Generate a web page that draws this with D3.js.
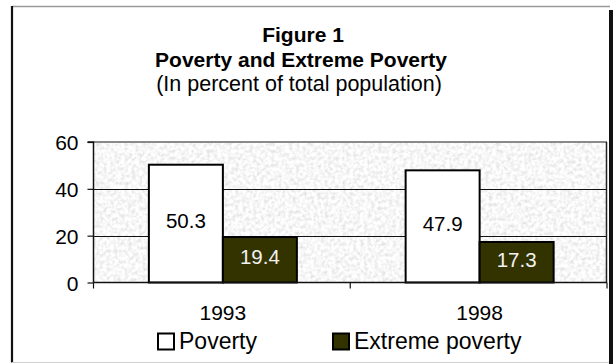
<!DOCTYPE html>
<html><head><meta charset="utf-8">
<script src="https://cdn.jsdelivr.net/npm/d3@7"></script>
<style>html,body{margin:0;padding:0;background:#fff;}svg{display:block;font-family:"Liberation Sans",Arial,sans-serif;}</style>
</head><body>
<svg id="c" width="613" height="364"></svg>
<script>
const categories = ["1993", "1998"];
const seriesNames = ["Poverty", "Extreme poverty"];
const poverty = [50.3, 47.9];
const extremePoverty = [19.4, 17.3];
const yTicks = [0, 20, 40, 60];
const titleLines = ["Figure 1", "Poverty and Extreme Poverty"];
const subtitle = "(In percent of total population)";

const colors = ["#ffffff", "#333300"];
const labelColors = ["#000000", "#f2f2f2"];
const seriesValues = [poverty, extremePoverty];

const svg = d3.select("#c");
const W = 613, H = 364;
const plot = {x0: 93.5, x1: 607, y0: 142, y1: 282.5};

// frame
svg.append("line").attr("x1", 12).attr("x2", 610).attr("y1", 6.5).attr("y2", 6.5).attr("stroke", "#9a9a9a").attr("stroke-width", 1.5);
svg.append("line").attr("x1", 12).attr("x2", 12).attr("y1", 6).attr("y2", 362.5).attr("stroke", "#111").attr("stroke-width", 2.2);
svg.append("line").attr("x1", 12).attr("x2", 609).attr("y1", 362.5).attr("y2", 362.5).attr("stroke", "#d0d0d0").attr("stroke-width", 1);
svg.append("rect").attr("x", 609).attr("y", 10).attr("width", 4).attr("height", H - 10).attr("fill", "#111");

// titles
const tcx = 301;
svg.append("text").attr("x", tcx + 2).attr("y", 42).attr("text-anchor", "middle").attr("font-weight", "bold").attr("font-size", 21).text(titleLines[0]);
svg.append("text").attr("x", tcx).attr("y", 67).attr("text-anchor", "middle").attr("font-weight", "bold").attr("font-size", 21).text(titleLines[1]);
svg.append("text").attr("x", tcx - 2).attr("y", 91).attr("text-anchor", "middle").attr("font-size", 21.5).text(subtitle);

// scales
const x = d3.scaleBand().domain(categories).range([plot.x0, plot.x1]).paddingInner(0).paddingOuter(0);
const x1 = d3.scaleBand().domain(seriesNames).range([0, 148]);
const y = d3.scaleLinear().domain([0, 60]).range([plot.y1, plot.y0]);

// textured background
const defs = svg.append("defs");
const f = defs.append("filter").attr("id", "noise").attr("x", 0).attr("y", 0).attr("width", 1).attr("height", 1);
f.append("feTurbulence").attr("type", "fractalNoise").attr("baseFrequency", 0.28).attr("numOctaves", 3).attr("seed", 4).attr("result", "t");
f.append("feColorMatrix").attr("in", "t").attr("type", "matrix")
  .attr("values", "0.5 0 0 0 0.68  0.5 0 0 0 0.68  0.5 0 0 0 0.68  0 0 0 0 1");
svg.append("rect").attr("x", plot.x0).attr("y", plot.y0).attr("width", plot.x1 - plot.x0).attr("height", plot.y1 - plot.y0).attr("filter", "url(#noise)").attr("fill", "#eee");

// gridlines
svg.append("g").selectAll("line").data(yTicks.filter(d => d > 0 && d < 60)).join("line")
  .attr("x1", plot.x0).attr("x2", plot.x1).attr("y1", d => Math.round(y(d)) + 0.5).attr("y2", d => Math.round(y(d)) + 0.5)
  .attr("stroke", "#111").attr("stroke-width", 1);
svg.append("line").attr("x1", plot.x0).attr("x2", plot.x1).attr("y1", plot.y0).attr("y2", plot.y0).attr("stroke", "#8a8a8a").attr("stroke-width", 2);
svg.append("line").attr("x1", plot.x1 - 0.5).attr("x2", plot.x1 - 0.5).attr("y1", plot.y0).attr("y2", plot.y1).attr("stroke", "#222").attr("stroke-width", 1.5);

// bars
const groups = svg.append("g").selectAll("g").data(categories).join("g")
  .attr("transform", d => `translate(${x(d) + x.bandwidth() / 2 - 73},0)`);
groups.each(function (cat, ci) {
  const g = d3.select(this);
  seriesNames.forEach((s, si) => {
    const v = seriesValues[si][ci];
    g.append("rect").attr("x", x1(s)).attr("y", y(v)).attr("width", x1.bandwidth()).attr("height", y(0) - y(v))
      .attr("fill", colors[si]).attr("stroke", "#000").attr("stroke-width", 2);
    g.append("text").attr("x", x1(s) + x1.bandwidth() / 2).attr("y", (y(v) + y(0)) / 2 + 4.5)
      .attr("text-anchor", "middle").attr("font-size", 20.5).attr("fill", labelColors[si]).text(v.toFixed(1));
  });
});

// y axis
const yAxis = d3.axisLeft(y).tickValues(yTicks).tickSize(6).tickPadding(9).tickFormat(d3.format("d"));
const ya = svg.append("g").attr("transform", `translate(${plot.x0},0)`).call(yAxis);
ya.select(".domain").attr("stroke", "#111").attr("stroke-width", 1.5).attr("d", `M-6,${plot.y0}H0V${plot.y1}`);
ya.selectAll(".tick line").attr("stroke", "#111").attr("stroke-width", 1.2);
ya.selectAll(".tick text").attr("font-size", 21).attr("fill", "#000").attr("font-family", "Liberation Sans, Arial, sans-serif").attr("dy", "0.36em");

// x axis
const xAxis = d3.axisBottom(x).tickSize(0).tickPadding(23);
const xa = svg.append("g").attr("transform", `translate(1,${plot.y1})`).call(xAxis);
xa.select(".domain").attr("stroke", "#111").attr("stroke-width", 1.5).attr("d", `M${plot.x0 - 1},0H${plot.x1 - 1}`);
xa.selectAll(".tick text").attr("font-size", 21).attr("fill", "#000").attr("font-family", "Liberation Sans, Arial, sans-serif");
// category separators
svg.append("g").selectAll("line").data([plot.x0, x(categories[1]), plot.x1]).join("line")
  .attr("x1", d => d).attr("x2", d => d).attr("y1", plot.y1).attr("y2", plot.y1 + 6).attr("stroke", "#111").attr("stroke-width", 1.2);

// legend
const legendX = [157, 332];
const lg = svg.append("g").selectAll("g").data(seriesNames).join("g").attr("transform", (d, i) => `translate(${legendX[i]},333)`);
lg.append("rect").attr("x", 1).attr("y", 0.5).attr("width", 16).attr("height", 16).attr("fill", (d, i) => colors[i]).attr("stroke", "#000").attr("stroke-width", 2);
lg.append("text").attr("x", 22).attr("y", 16).attr("font-size", 23).attr("fill", "#000").text(d => d);
</script>
</body></html>
